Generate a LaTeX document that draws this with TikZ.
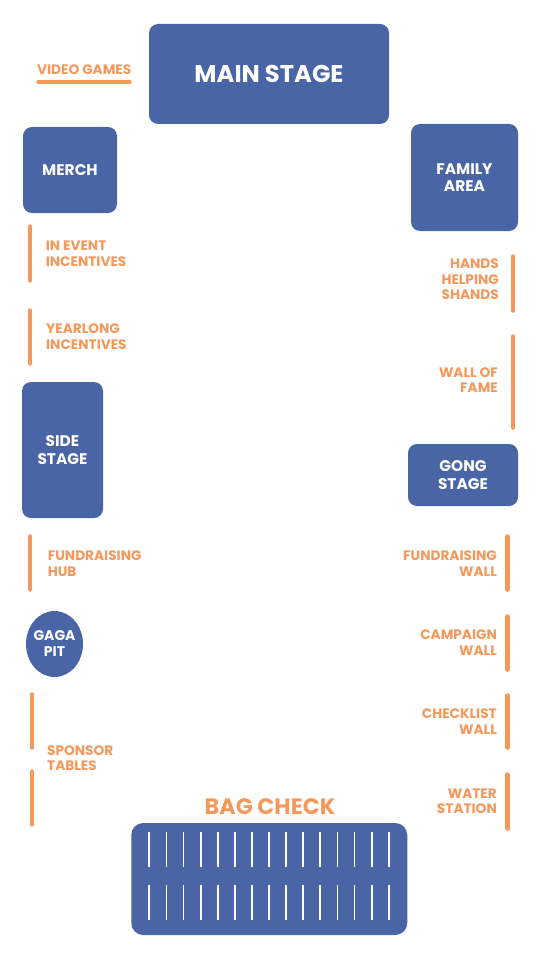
\documentclass[tikz,border=0pt]{standalone}
\usepackage{fontspec}
\setmainfont{Poppins}
\usepackage{tikz}
\usetikzlibrary{shapes.geometric}
\definecolor{stageblue}{RGB}{74,101,165}
\definecolor{signorange}{RGB}{244,152,92}
\tikzstyle{zone} = [fill=stageblue, rounded corners=9pt, inner sep=0pt, text=white, align=center, font=\bfseries\fontsize{15.4}{17.8}\selectfont]
\tikzstyle{sign} = [text=signorange, inner sep=0pt, font=\bfseries\fontsize{13.7}{15.5}\selectfont]
\tikzstyle{wall} = [draw=signorange, line width=4.5pt, line cap=round]

\begin{document}
\begin{tikzpicture}[x=1pt, y=-1pt]
		\useasboundingbox (0,0) rectangle (540,960);
		% stages and areas
		\node (mainstage) [zone, minimum width=240pt, minimum height=100pt, font=\bfseries\fontsize{24.2}{27}\selectfont] at (269,74) {MAIN STAGE};
		\node (merch) [zone, minimum width=94pt, minimum height=86pt] at (70,170) {MERCH};
		\node (family) [zone, minimum width=107pt, minimum height=107pt] at (464.5,177.5) {FAMILY\\AREA};
		\node (sidestage) [zone, minimum width=81pt, minimum height=136pt] at (62.5,450) {SIDE\\STAGE};
		\node (gongstage) [zone, minimum width=110pt, minimum height=62pt] at (463,475) {GONG\\STAGE};
		\node (gagapit) [zone, ellipse, inner sep=-8pt, minimum width=57pt, minimum height=66pt, font=\bfseries\fontsize{14}{16}\selectfont] at (54.5,644) {GAGA\\PIT};
		\node (bagbox) [zone, rounded corners=12pt, minimum width=276pt, minimum height=112pt] at (269.25,879) {};
		\node (bagcheck) [sign, font=\bfseries\fontsize{22.3}{25}\selectfont] at (270,806.5) {BAG CHECK};
		
		% bag racks
		\foreach \i in {0,...,14} {
			\draw [white, line width=1.8pt] (149.3+17.1*\i,832) -- (149.3+17.1*\i,867);
			\draw [white, line width=1.8pt] (149.3+17.1*\i,885) -- (149.3+17.1*\i,920);
		}
		
		% left side signs
		\node (videogames) [sign, anchor=west] at (37,69.5) {VIDEO GAMES};
		\node (inevent) [sign, anchor=west, align=left] at (45.7,253.9) {IN EVENT\\INCENTIVES};
		\node (yearlong) [sign, anchor=west, align=left] at (46,336.7) {YEARLONG\\INCENTIVES};
		\node (hub) [sign, anchor=west, align=left] at (47.6,563.5) {FUNDRAISING\\HUB};
		\node (sponsor) [sign, anchor=west, align=left] at (47,758) {SPONSOR\\TABLES};
		
		% right side signs
		\node (hands) [sign, anchor=east, align=right] at (499,279.5) {HANDS\\HELPING\\SHANDS};
		\node (fame) [sign, anchor=east, align=right] at (498,380.3) {WALL OF\\FAME};
		\node (fundwall) [sign, anchor=east, align=right] at (497,563.5) {FUNDRAISING\\WALL};
		\node (campaign) [sign, anchor=east, align=right] at (497,642.5) {CAMPAIGN\\WALL};
		\node (checklist) [sign, anchor=east, align=right] at (497,721.5) {CHECKLIST\\WALL};
		\node (water) [sign, anchor=east, align=right] at (497,801.3) {WATER\\STATION};
		
		% walls
		\draw [wall] (38.5,82) -- (129.5,82);
		\draw [wall] (30,226.5) -- (30,280.5);
		\draw [wall] (30,310.5) -- (30,363.5);
		\draw [wall] (30,536.5) -- (30,589.5);
		\draw [wall] (32,694.5) -- (32,747.5);
		\draw [wall] (32,771.5) -- (32,824.5);
		\draw [wall] (513,256.5) -- (513,310.5);
		\draw [wall] (513,336.5) -- (513,427.5);
		\draw [wall] (507.5,536.5) -- (507.5,589.5);
		\draw [wall] (507.5,616.5) -- (507.5,669.5);
		\draw [wall] (507.5,695.5) -- (507.5,747.5);
		\draw [wall] (507.5,774.5) -- (507.5,828.5);
	\end{tikzpicture}
\end{document}
